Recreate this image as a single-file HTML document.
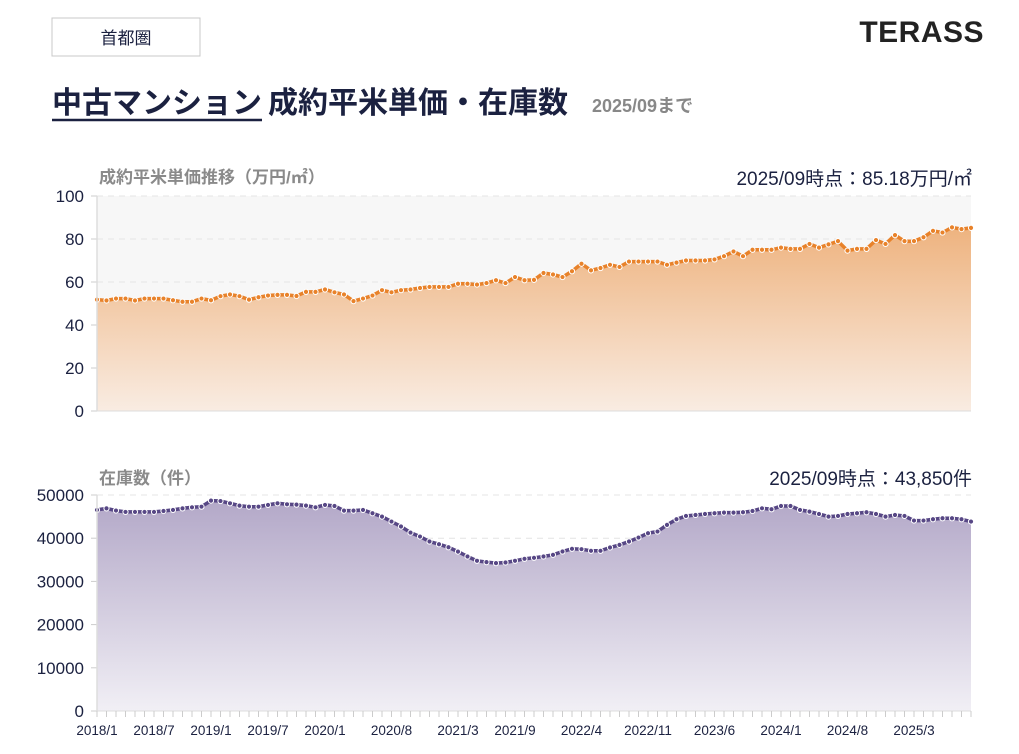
<!DOCTYPE html>
<html><head><meta charset="utf-8">
<style>
body{margin:0;background:#fff;width:1019px;height:749px;overflow:hidden;font-family:"Liberation Sans","Noto Sans CJK JP",sans-serif;}
svg text{font-family:"Liberation Sans","Noto Sans CJK JP",sans-serif;}
</style></head>
<body>
<svg id="chart" width="1019" height="749" viewBox="0 0 1019 749" xmlns="http://www.w3.org/2000/svg">
<defs>
<linearGradient id="gOr" x1="0" y1="0" x2="0" y2="1">
<stop offset="0" stop-color="#eeb37f"/><stop offset="1" stop-color="#f9ece2"/></linearGradient>
<linearGradient id="gPu" x1="0" y1="0" x2="0" y2="1">
<stop offset="0" stop-color="#b3a8c8"/><stop offset="1" stop-color="#f1eff5"/></linearGradient>
</defs>
<rect x="52" y="18" width="148" height="38" fill="#fff" stroke="#c8c8c8"/>
<text x="126" y="44" font-size="17" text-anchor="middle" fill="#1b2140">首都圏</text>
<text x="984" y="42" font-size="30" font-weight="bold" text-anchor="end" fill="#222" letter-spacing="0.5">TERASS</text>
<text x="52" y="113" font-size="30" font-weight="bold" fill="#1b2140"><tspan>中古マンション</tspan><tspan x="268">成約平米単価・在庫数</tspan></text>
<line x1="52" y1="120" x2="262" y2="120" stroke="#1b2140" stroke-width="2.5"/>
<text x="592" y="112" font-size="18" font-weight="bold" fill="#888">2025/09まで</text>
<text x="99" y="183" font-size="17" font-weight="bold" fill="#8a8a8a">成約平米単価推移（万円/㎡）</text>
<text x="972" y="185" font-size="19" text-anchor="end" fill="#1b2140">2025/09時点：85.18万円/㎡</text>
<text x="99" y="484" font-size="17" font-weight="bold" fill="#8a8a8a">在庫数（件）</text>
<text x="972" y="485" font-size="19" text-anchor="end" fill="#1b2140">2025/09時点：43,850件</text>
<g id="g1"></g><g id="g2"></g><g id="gx"></g>
</svg>
<script>
const priceValues=[51.8,51.4,52.3,52.3,51.4,52.3,52.3,52.3,51.5,50.8,50.8,52.3,51.5,53.4,54.2,53.4,51.8,52.9,53.7,54,54,53.5,55.4,55.4,56.5,55.2,54.2,51.1,52.3,53.7,56.2,55.2,56.2,56.5,57.2,57.7,57.7,57.7,59.2,59.2,58.8,59.5,60.8,59.5,62.3,60.8,61,64.2,63.5,62.3,65,68.5,65.4,66.5,68,67,69.5,69.5,69.5,69.5,68,69,70,70,70,70.5,72,74.2,72,75,75,75,76,75.4,75.4,77.7,76,77.5,79,74.6,75.4,75.4,79.5,77.7,81.8,79,79,80.8,83.8,83,85.4,84.6,85.18];
const stockValues=[46540,46900,46400,46080,46080,46080,46080,46300,46540,46900,47150,47300,48700,48600,48080,47540,47300,47300,47700,48080,47850,47770,47540,47150,47700,47460,46380,46380,46540,45770,45000,43850,42700,41300,40380,39230,38600,37900,36900,35770,34770,34460,34230,34380,34770,35230,35460,35770,36150,36920,37540,37460,37080,37080,37850,38460,39230,40150,41150,41540,43080,44380,45150,45380,45610,45770,45920,45920,46000,46300,46920,46700,47460,47460,46540,46150,45610,45000,45150,45610,45770,46000,45610,45000,45380,45150,44080,44080,44380,44610,44610,44380,43850];
const xLabels=["2018/1","2018/7","2019/1","2019/7","2020/1","2020/8","2021/3","2021/9","2022/4","2022/11","2023/6","2024/1","2024/8","2025/3"];
const xLabelIdx=[0,6,12,18,24,31,38,44,51,58,65,72,79,86];
const priceTicks=[0,20,40,60,80,100];
const stockTicks=[0,10000,20000,30000,40000,50000];
const NS="http://www.w3.org/2000/svg";
const X0=97,X1=971;
function xs(i){return X0+i*(X1-X0)/(priceValues.length-1);}
function mk(tag,at,parent){const e=document.createElementNS(NS,tag);for(const k in at)e.setAttribute(k,at[k]);parent.appendChild(e);return e;}
function drawPanel(gid,vals,ticks,yTop,yBot,vmax,col,grad,bg,nm){
  const g=document.getElementById(gid);
  const ys=v=>yBot-(v/vmax)*(yBot-yTop);
  const r=mk('rect',{x:X0,y:yTop,width:X1-X0,height:yBot-yTop,fill:bg},g);
  
  
  ticks.forEach(t=>{
    const y=ys(t);
    if(t>0){const l=mk('line',{x1:X0,y1:y,x2:X1,y2:y,stroke:'#e4e4e4','stroke-dasharray':'6,5'},g);
    
    }
    mk('line',{x1:X0-6,y1:y,x2:X0,y2:y,stroke:'#ccc'},g);
    const tx=mk('text',{x:84,y:y+6,'font-size':17,'text-anchor':'end',fill:'#1b2140'},g);
    tx.textContent=t;
    
    
  });
  let d='M'+X0+','+yBot;
  vals.forEach((v,i)=>{d+=' L'+xs(i).toFixed(1)+','+ys(v).toFixed(1);});
  d+=' L'+X1+','+yBot+' Z';
  const a=mk('path',{d:d,fill:'url(#'+grad+')'},g);
  
  
  const ln=mk('polyline',{points:vals.map((v,i)=>xs(i).toFixed(1)+','+ys(v).toFixed(1)).join(' '),fill:'none',stroke:col,'stroke-width':3.5},g);
  
  
  vals.forEach((v,i)=>{
    const c=mk('circle',{cx:xs(i),cy:ys(v),r:2.6,fill:col,stroke:'#fff','stroke-width':1},g);
    
    
  });
  const ax=mk('line',{x1:X0,y1:yTop,x2:X0,y2:yBot,stroke:'#ddd','stroke-width':1.5},g);
  
  
  mk('line',{x1:X0,y1:yBot,x2:X1,y2:yBot,stroke:'#ddd'},g);
}
drawPanel('g1',priceValues,priceTicks,196,411,100,'#e8822a','gOr','#f7f7f7','price');
drawPanel('g2',stockValues,stockTicks,495,711,50000,'#574785','gPu','#ffffff','stock');
const gx=document.getElementById('gx');
priceValues.forEach((v,i)=>{mk('line',{x1:xs(i),y1:711,x2:xs(i),y2:717,stroke:'#ccc'},gx);});
xLabels.forEach((lab,k)=>{
  const t=mk('text',{x:xs(xLabelIdx[k]),y:735,'font-size':13.5,'text-anchor':'middle',fill:'#1b2140'},gx);
  t.textContent=lab;
  
  
});
</script>
</body></html>
